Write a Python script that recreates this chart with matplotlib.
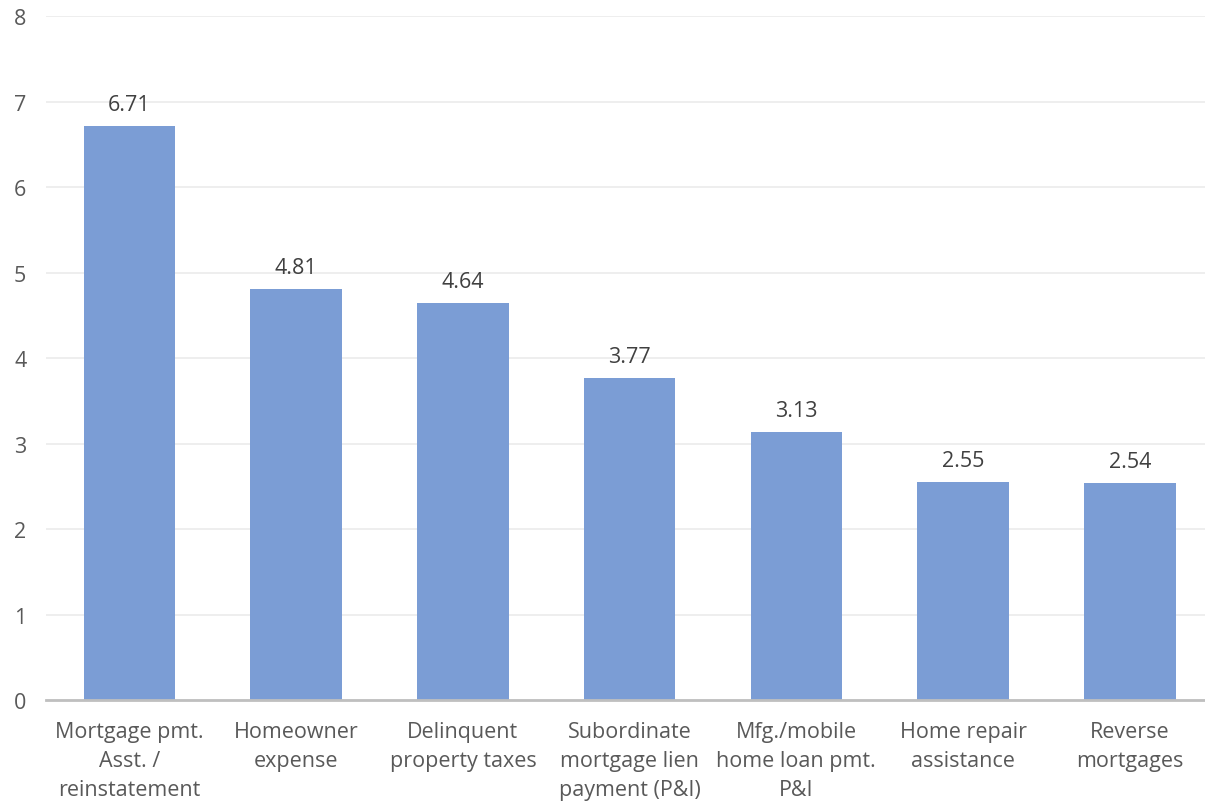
import matplotlib
matplotlib.use("Agg")
import matplotlib.pyplot as plt

categories = ["Mortgage pmt.\nAsst. /\nreinstatement", "Homeowner\nexpense",
              "Delinquent\nproperty taxes", "Subordinate\nmortgage lien\npayment (P&I)",
              "Mfg./mobile\nhome loan pmt.\nP&I", "Home repair\nassistance", "Reverse\nmortgages"]
values = [6.71, 4.81, 4.64, 3.77, 3.13, 2.55, 2.54]
yticks = [0, 1, 2, 3, 4, 5, 6, 7, 8]

plt.rcParams['font.family'] = ['Open Sans', 'DejaVu Sans']
W, H = 1205, 803
fig = plt.figure(figsize=(W/100, H/100), dpi=100)
ax = fig.add_axes([46/W, 1-701/H, 1159/W, 684/H])
x = list(range(len(categories)))
ax.bar(x, values, width=0.55, color="#7B9DD5", zorder=3)
for xi, v in zip(x, values):
    ax.text(xi, v + 0.13, f"{v:.2f}", ha="center", va="bottom", fontsize=15.5, color="#404040")
ax.set_ylim(0, 8)
ax.set_xlim(-0.5, -0.5 + 1159/166.75)
ax.set_yticks(yticks)
ax.set_yticklabels([str(t) for t in yticks], fontsize=15.5, color="#595959")
ax.set_xticks(x)
ax.set_xticklabels(categories, fontsize=15.5, color="#595959", linespacing=1.5)
ax.tick_params(axis="both", length=0)
ax.tick_params(axis="y", pad=23)
ax.tick_params(axis="x", pad=15)
for lab in ax.get_yticklabels():
    lab.set_horizontalalignment("left")
ax.grid(axis="y", color="#EBEBEB", linewidth=1.2, zorder=0)
for s in ["top", "right", "left"]:
    ax.spines[s].set_visible(False)
ax.spines["bottom"].set_color("#BFBFBF")
ax.spines["bottom"].set_linewidth(2)
ax.spines["bottom"].set_zorder(4)
fig.savefig("out.png", dpi=100, facecolor="white")
